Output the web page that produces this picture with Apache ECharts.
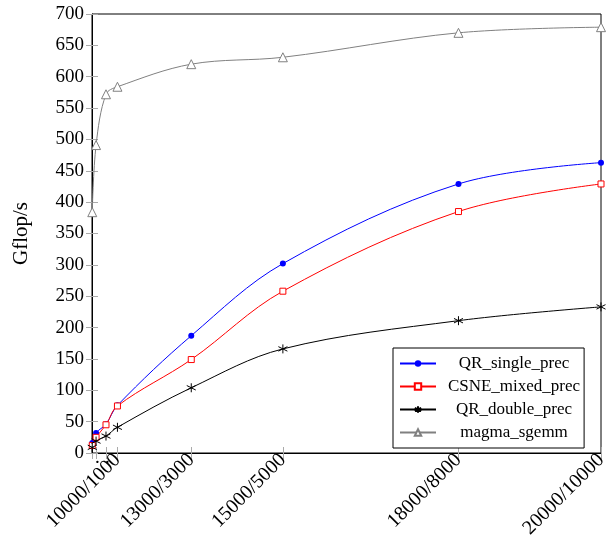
<!DOCTYPE html>
<html>
<head>
    <meta charset="utf-8">
    <script src="https://cdn.jsdelivr.net/npm/echarts@6/dist/echarts.min.js"></script>
</head>
<body style="margin:0">
    <div id="main" style="width:612px;height:545px"></div>
    <script type="text/javascript">
        // problem size m*n on the x axis, Gflop/s on the y axis
        var sizes = [1e5, 1.6e6, 5.5e6, 1e7, 3.9e7, 7.5e7, 1.44e8, 2e8];
        var tickLabels = ['.', '.', '.', '10000/1000', '13000/3000', '15000/5000', '18000/8000', '20000/10000'];
        var qrSingle = [16, 32, 46, 76, 187, 302, 429, 463];
        var csneMixed = [12, 25, 45, 75, 149, 258, 385, 429];
        var qrDouble = [9, 19, 27, 41, 104, 166, 211, 233];
        var magmaSgemm = [384, 491, 572, 584, 620, 631, 670, 679];

        var font = 'Liberation Serif';
        var starPath = 'path://M0,-5L0,5M-4.33,-2.5L4.33,2.5M-4.33,2.5L4.33,-2.5';

        function pairs(ys) {
            return ys.map(function (y, i) { return [sizes[i], y]; });
        }
        function labelFor(v) {
            var i = sizes.indexOf(v);
            return i < 0 ? '' : tickLabels[i];
        }

        var chart = echarts.init(document.getElementById('main'));
        var tickStyle = { show: true, inside: true, length: 6, lineStyle: { color: '#aaa' } };

        var option = {
            animation: false,
            grid: { left: 92, right: 11, top: 14, bottom: 92, show: true, borderColor: '#000', borderWidth: 1 },
            legend: {
                orient: 'vertical',
                left: 393,
                top: 348,
                itemWidth: 36,
                itemHeight: 8,
                itemGap: 6,
                padding: [7, 4, 7, 6],
                backgroundColor: '#fff',
                borderColor: '#000',
                borderWidth: 1,
                formatter: function (name) { return '{a|' + name + '}'; },
                textStyle: {
                    fontFamily: font, fontSize: 17, color: '#000',
                    rich: { a: { width: 146, align: 'center', fontFamily: font, fontSize: 17, color: '#000' } }
                },
                data: ['QR_single_prec', 'CSNE_mixed_prec', 'QR_double_prec', 'magma_sgemm']
            },
            xAxis: [{
                type: 'value',
                min: 0,
                max: 2e8,
                axisLine: { lineStyle: { color: '#000' } },
                axisTick: Object.assign({ customValues: sizes }, tickStyle),
                splitLine: { show: false },
                axisLabel: {
                    customValues: sizes,
                    rotate: 45,
                    margin: 4,
                    fontFamily: font,
                    fontSize: 20,
                    color: '#000',
                    formatter: labelFor
                }
            }, {
                type: 'value',
                position: 'top',
                min: 0,
                max: 2e8,
                axisLine: { show: false },
                axisTick: Object.assign({ customValues: sizes }, tickStyle),
                axisLabel: { show: false },
                splitLine: { show: false }
            }],
            yAxis: [{
                type: 'value',
                min: 0,
                max: 700,
                interval: 50,
                name: 'Gflop/s',
                nameLocation: 'middle',
                nameRotate: 90,
                nameGap: 60,
                nameTextStyle: { fontFamily: font, fontSize: 21, color: '#000' },
                axisLine: { show: true, lineStyle: { color: '#000' } },
                axisTick: tickStyle,
                splitLine: { show: false },
                axisLabel: { fontFamily: font, fontSize: 19, color: '#000', margin: 8 }
            }, {
                type: 'value',
                position: 'right',
                min: 0,
                max: 700,
                interval: 50,
                axisLine: { show: false },
                axisTick: tickStyle,
                splitLine: { show: false },
                axisLabel: { show: false }
            }],
            series: [{
                name: 'QR_single_prec',
                type: 'line',
                smooth: 0.35,
                symbol: 'circle',
                symbolSize: 6,
                lineStyle: { color: '#0000ff', width: 1 },
                itemStyle: { color: '#0000ff' },
                data: pairs(qrSingle)
            }, {
                name: 'CSNE_mixed_prec',
                type: 'line',
                smooth: 0.35,
                symbol: 'rect',
                symbolSize: 6,
                lineStyle: { color: '#ff0000', width: 1 },
                itemStyle: { color: '#fff', borderColor: '#ff0000', borderWidth: 1 },
                data: pairs(csneMixed)
            }, {
                name: 'QR_double_prec',
                type: 'line',
                smooth: 0.35,
                symbol: starPath,
                symbolSize: 9,
                lineStyle: { color: '#000', width: 1 },
                itemStyle: { color: 'none', borderColor: '#000', borderWidth: 1 },
                data: pairs(qrDouble)
            }, {
                name: 'magma_sgemm',
                type: 'line',
                smooth: 0.35,
                symbol: 'triangle',
                symbolSize: 9,
                lineStyle: { color: '#808080', width: 1 },
                itemStyle: { color: '#fff', borderColor: '#808080', borderWidth: 1 },
                data: pairs(magmaSgemm)
            }]
        };

        chart.setOption(option);
    </script>
</body>
</html>
